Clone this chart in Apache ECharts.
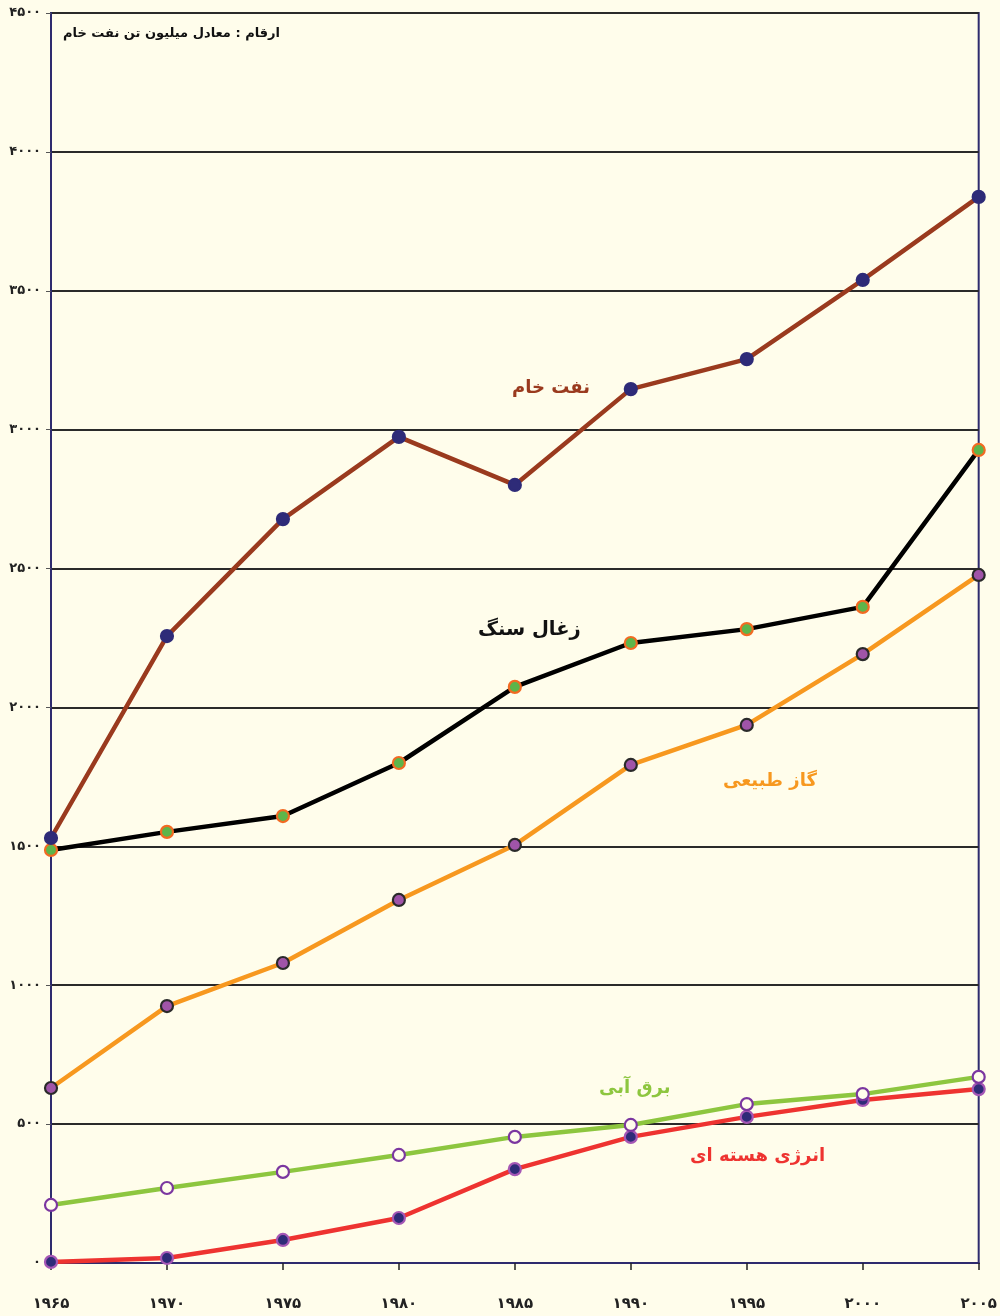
<!DOCTYPE html>
<html><head><meta charset="utf-8">
<script src="https://cdn.jsdelivr.net/npm/echarts@6/dist/echarts.min.js"></script>
<style>html,body{margin:0;padding:0;background:#FFFDEB}#c{width:1000px;height:1316px}</style>
</head><body><div id="c"></div>
<script>
const years = ['۱۹۶۵','۱۹۷۰','۱۹۷۵','۱۹۸۰','۱۹۸۵','۱۹۹۰','۱۹۹۵','۲۰۰۰','۲۰۰۵'];
const yTickLabels = ['۰','۵۰۰','۱۰۰۰','۱۵۰۰','۲۰۰۰','۲۵۰۰','۳۰۰۰','۳۵۰۰','۴۰۰۰','۴۵۰۰'];
const oil = [1530, 2257, 2678, 2974, 2801, 3146, 3254, 3539, 3838];
const coal = [1487, 1552, 1609, 1800, 2074, 2232, 2282, 2362, 2927];
const gas = [630, 925, 1080, 1307, 1505, 1793, 1937, 2192, 2477];
const hydro = [209, 270, 328, 389, 454, 497, 572, 608, 670];
const nuclear = [4, 18, 83, 162, 338, 454, 526, 587, 626];
const unitNote = 'ارقام : معادل میلیون تن نفت خام';
const FONT = '"DejaVu Sans", sans-serif';

const chart = echarts.init(document.getElementById('c'));
function ser(name, data, lineColor, fill, border, z) {
  return {name, type:'line', data, z, symbol:'circle', symbolSize:12,
    lineStyle:{color:lineColor, width:4.5},
    itemStyle:{color:fill, borderColor:border, borderWidth:2.2},
    emphasis:{disabled:true}};
}
const labelText = (txt, x, y, color, size) => ({type:'text', left:x, top:y,
  style:{text:txt, fill:color, font:'bold '+size+'px '+FONT}});
chart.setOption({
  backgroundColor:'#FFFDEB',
  animation:false,
  grid:{left:51, right:21, top:13, bottom:53, show:true, borderColor:'#2E2B6E', borderWidth:2, backgroundColor:'transparent'},
  xAxis:{type:'category', data:years, boundaryGap:false,
    axisLine:{lineStyle:{color:'#2E2B6E', width:2}},
    axisTick:{show:true, inside:false, length:7, lineStyle:{color:'#222', width:1.5}},
    axisLabel:{margin:34, color:'#222', fontFamily:FONT, fontWeight:'bold', fontSize:15},
    splitLine:{show:false}},
  yAxis:{type:'value', min:0, max:4500, interval:500,
    axisLine:{show:true, lineStyle:{color:'#2E2B6E', width:2}},
    axisTick:{show:true, length:5, lineStyle:{color:'#555', width:1}},
    axisLabel:{margin:10, color:'#222', fontFamily:FONT, fontWeight:'bold', fontSize:13,
      formatter:(v)=>yTickLabels[Math.round(v/500)]},
    splitLine:{show:true, lineStyle:{color:'#2A2A2A', width:2}}},
  series:[
    ser('نفت خام', oil, '#9A3A1E', '#2E2B78', '#2E2B78', 5),
    ser('زغال سنگ', coal, '#000000', '#5DB54A', '#F26A22', 4),
    ser('گاز طبیعی', gas, '#F7981F', '#A054A8', '#2A2A2A', 3),
    ser('انرژی هسته ای', nuclear, '#EE3330', '#2E2B78', '#A557B5', 2),
    ser('برق آبی', hydro, '#8DC63F', '#FFFDEB', '#7B36A0', 6)
  ],
  graphic:[
    labelText(unitNote, 63, 27, '#111', 13),
    labelText('نفت خام', 512, 379, '#9A3A1E', 18),
    labelText('زغال سنگ', 478, 620, '#111', 19.5),
    labelText('گاز طبیعی', 723, 772, '#F7981F', 18),
    labelText('برق آبی', 599, 1079, '#8DC63F', 18),
    labelText('انرژی هسته ای', 690, 1147, '#EE3330', 18)
  ]
});
</script></body></html>
